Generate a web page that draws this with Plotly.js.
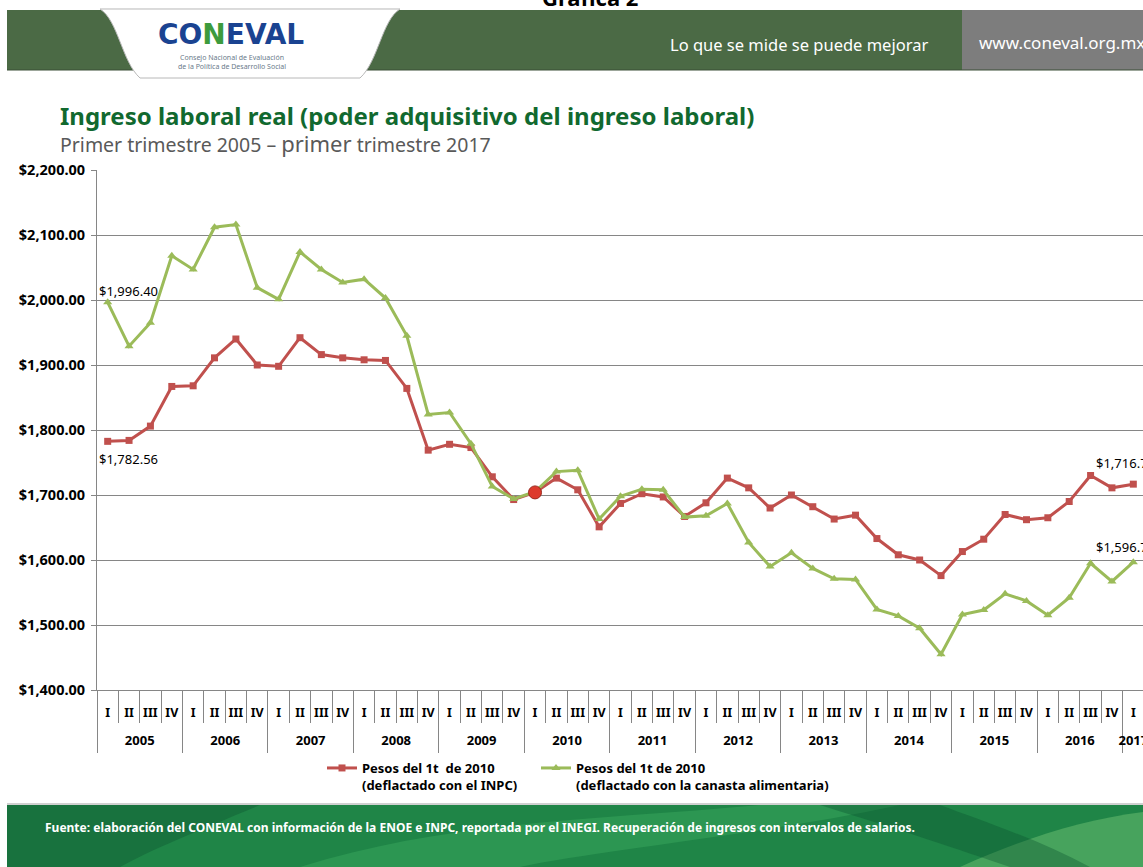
<!DOCTYPE html>
<html><head><meta charset="utf-8">
<script src="https://cdn.plot.ly/plotly-3.0.1.min.js"></script>
<style>html,body{margin:0;padding:0;background:#fff;overflow:hidden;width:1143px;height:867px}#chart{width:1200px;height:867px}</style>
</head><body><div id="chart"></div>
<script>
// ---------- DATA ----------
const yearLabels = ['2005','2006','2007','2008','2009','2010','2011','2012','2013','2014','2015','2016','2017'];
const quarterLabels = ['I','II','III','IV'];
const quartersPerYear = [4,4,4,4,4,4,4,4,4,4,4,4,1];
const inpcValues = [1782.56,1784,1806,1867, 1868,1911,1940,1900, 1898,1942,1916,1911, 1908,1907,1864,1769,
  1778,1773,1728,1693, 1704,1726,1708,1651, 1687,1702,1697,1667, 1688,1726,1711,1680,
  1700,1682,1663,1669, 1633,1608,1600,1576, 1613,1632,1670,1662, 1665,1690,1730,1711, 1716.70];
const canastaValues = [1996.40,1929,1965,2068, 2047,2112,2116,2019, 2001,2074,2047,2027, 2032,2003,1945,1824,
  1827,1779,1713,1694, 1705,1736,1738,1663, 1698,1709,1708,1666, 1668,1687,1627,1590,
  1611,1587,1571,1570, 1524,1514,1495,1455, 1516,1523,1548,1537, 1515,1542,1595,1567, 1596.70];
const seriesNames = ['Pesos del 1t  de 2010<br>(deflactado con el INPC)',
                     'Pesos del 1t de 2010<br>(deflactado con la canasta alimentaria)'];
const baseYear = '2010', baseQuarter = 'I';

// ---------- BUILD CATEGORIES ----------
const xYear = [], xQuarter = [], xKey = [];
const yearCenters = [], yearBounds = [-0.5];
let idx = 0;
yearLabels.forEach((y,i)=>{
  const start = idx;
  for(let q=0;q<quartersPerYear[i];q++){ xYear.push(y); xQuarter.push(quarterLabels[q]); xKey.push(y+' '+quarterLabels[q]); idx++; }
  yearCenters.push((start + idx - 1)/2);
  yearBounds.push(idx - 0.5);
});
const n = xKey.length;
let baseIdx = 0;
for(let i=0;i<n;i++){ if(xYear[i]===baseYear && xQuarter[i]===baseQuarter){ baseIdx=i; break; } }

// ---------- GEOMETRY HELPERS ----------
const FW=1200, FH=867, ML=97, MT=170, PR=1144, PB=690;
const PW=PR-ML, PH=PB-MT;
const px = x => (x-ML)/PW;
const py = y => (PB-y)/PH;
function pathOf(cmds){
  return cmds.map(c=>{ const l=c[0]; const pts=[]; for(let i=1;i<c.length;i+=2){ pts.push(px(c[i]).toFixed(5)+','+py(c[i+1]).toFixed(5)); } return l+(pts.length?' '+pts.join(' '):''); }).join(' ');
}
const FONT = 'Noto Sans, DejaVu Sans, sans-serif';
const RED='#c0504d', GREEN='#9bbb59', GRID='#868686';
const fmt = v => '$' + v.toLocaleString('en-US',{minimumFractionDigits:2, maximumFractionDigits:2});
const axisCarrier = ax => ({type:'scatter', mode:'markers', x:[], y:[], xaxis:ax, yaxis:'y', showlegend:false, hoverinfo:'skip'});

const traces = [
  {type:'scatter', mode:'lines+markers', name:seriesNames[0], x:xKey, y:inpcValues, legend:'legend',
   line:{color:RED, width:3}, marker:{symbol:'square', size:7, color:RED}},
  {type:'scatter', mode:'lines+markers', name:seriesNames[1], x:xKey, y:canastaValues, legend:'legend2',
   line:{color:GREEN, width:3}, marker:{symbol:'triangle-up', size:8, color:GREEN}},
  {type:'scatter', mode:'markers', showlegend:false, hoverinfo:'skip',
   x:[xKey[baseIdx]], y:[inpcValues[baseIdx]],
   marker:{symbol:'circle', size:13, color:'#dd3a2c', line:{color:'#9a2a20', width:1}}},
  axisCarrier('x2'), axisCarrier('x3'), axisCarrier('x4')
];

const shapes = [
  {type:'rect', xref:'paper', yref:'paper', x0:px(7), x1:px(962), y0:py(70), y1:py(10), fillcolor:'#4b6a45', line:{width:0}, layer:'above'},
  {type:'rect', xref:'paper', yref:'paper', x0:px(962), x1:px(1200), y0:py(70), y1:py(10), fillcolor:'#7d7d7d', line:{width:0}, layer:'above'},
  {type:'line', xref:'paper', yref:'paper', x0:px(7), x1:px(1200), y0:py(70), y1:py(70), line:{color:'#3a4f36', width:1}, layer:'above'},
  {type:'path', xref:'paper', yref:'paper', layer:'above',
   path: pathOf([['M',100,9],['C',118,20,122,62,140,78],['L',360,78],['C',378,62,382,20,400,9],['Z']]),
   fillcolor:'#ffffff', line:{color:'#b8b8b8', width:1}},
  {type:'rect', xref:'paper', yref:'paper', x0:px(7), x1:px(1200), y0:py(867), y1:py(805), fillcolor:'#1f8547', line:{width:0}, layer:'above'},
  {type:'path', xref:'paper', yref:'paper', layer:'above', line:{width:0}, fillcolor:'rgba(60,170,95,0.45)',
   path: pathOf([['M',300,867],['C',450,820,600,820,760,805],['L',900,805],['C',760,835,600,850,520,867],['Z']])},
  {type:'path', xref:'paper', yref:'paper', layer:'above', line:{width:0}, fillcolor:'rgba(15,90,50,0.45)',
   path: pathOf([['M',7,805],['L',260,805],['C',200,830,150,850,120,867],['L',7,867],['Z']])},
  {type:'path', xref:'paper', yref:'paper', layer:'above', line:{width:0}, fillcolor:'rgba(120,200,120,0.45)',
   path: pathOf([['M',960,867],['C',1020,840,1080,820,1143,812],['L',1200,812],['L',1200,867],['Z']])},
  {type:'path', xref:'paper', yref:'paper', layer:'above', line:{width:0}, fillcolor:'rgba(10,80,45,0.35)',
   path: pathOf([['M',820,805],['C',900,830,960,850,1010,867],['L',1090,867],['C',1040,840,980,820,940,805],['Z']])},
  {type:'line', xref:'paper', yref:'paper', x0:px(7), x1:px(1200), y0:py(804), y1:py(804), line:{color:'#d0d0d0', width:2}, layer:'above'}
];

const lbl = (x,y,text,xs,ys,anchor) => ({xref:'x', yref:'y', x:x, y:y, text:text, showarrow:false,
  xanchor:anchor||'center', yanchor:'middle', xshift:xs, yshift:ys, font:{family:FONT, size:13, color:'#000'}});

const annotations = [
  {xref:'paper', yref:'paper', x:px(590), y:py(-3), text:'<b>Gráfica 2</b>', showarrow:false, xanchor:'center', yanchor:'middle', font:{family:FONT, size:22, color:'#000'}},
  {xref:'paper', yref:'paper', x:px(231), y:py(34), showarrow:false, xanchor:'center', yanchor:'middle',
   text:'<b><span style="color:#1a4391">CO</span><span style="color:#3d9b3d">N</span><span style="color:#1a4391">EVAL</span></b>',
   font:{family:'DejaVu Sans, sans-serif', size:28, color:'#1a4391'}},
  {xref:'paper', yref:'paper', x:px(232), y:py(62), showarrow:false, xanchor:'center', yanchor:'middle',
   text:'Consejo Nacional de Evaluación<br>de la Política de Desarrollo Social',
   font:{family:FONT, size:7, color:'#6a7a8a'}},
  {xref:'paper', yref:'paper', x:px(668), y:py(45), text:'Lo que se mide se puede mejorar', showarrow:false, xanchor:'left', yanchor:'middle',
   font:{family:FONT, size:16.5, color:'#ffffff'}},
  {xref:'paper', yref:'paper', x:px(977), y:py(43), text:'www.coneval.org.mx', showarrow:false, xanchor:'left', yanchor:'middle',
   font:{family:FONT, size:17, color:'#ffffff'}},
  {xref:'paper', yref:'paper', x:px(58), y:py(116), text:'<b>Ingreso laboral real (poder adquisitivo del ingreso laboral)</b>', showarrow:false, xanchor:'left', yanchor:'middle',
   font:{family:FONT, size:24, color:'#11692f'}},
  {xref:'paper', yref:'paper', x:px(58), y:py(143), text:'Primer trimestre 2005 – <span style="font-size:22px">primer</span> trimestre 2017', showarrow:false, xanchor:'left', yanchor:'middle',
   font:{family:FONT, size:19.5, color:'#595959'}},
  {xref:'paper', yref:'paper', x:px(43), y:py(827), text:'<b>Fuente: elaboración del CONEVAL con información de la ENOE e INPC, reportada por el INEGI. Recuperación de ingresos con intervalos de salarios.</b>', showarrow:false, xanchor:'left', yanchor:'middle',
   font:{family:FONT, size:12, color:'#ffffff'}},
  lbl(0, canastaValues[0], fmt(canastaValues[0]), 21, 11),
  lbl(0, inpcValues[0], fmt(inpcValues[0]), 21, -18),
  lbl(n-1, inpcValues[n-1], fmt(inpcValues[n-1]), -39, 21, 'left'),
  lbl(n-1, canastaValues[n-1], fmt(canastaValues[n-1]), -39, 15, 'left')
];

const legendBase = {orientation:'h', xanchor:'left', yanchor:'top', valign:'top', bgcolor:'rgba(0,0,0,0)',
  font:{family:FONT, size:13, color:'#000', weight:'bold'}};
const overlayBase = {overlaying:'x', anchor:'y', side:'bottom', type:'linear', range:[-0.5, n-0.5],
  showgrid:false, zeroline:false, showline:false, tickcolor:GRID, tickwidth:1};

const layout = {
  width:FW, height:FH, margin:{l:ML, r:FW-PR, t:MT, b:FH-PB, pad:0},
  paper_bgcolor:'#ffffff', plot_bgcolor:'#ffffff', showlegend:true,
  font:{family:FONT, color:'#000'},
  xaxis:{type:'category', showgrid:false, zeroline:false, showline:true, linecolor:GRID, linewidth:1,
    ticks:'', tickangle:0, ticklabelstandoff:11, tickmode:'array', tickvals:xKey, ticktext:xQuarter,
    range:[-0.5, n-0.5], tickfont:{family:FONT, size:12.5, color:'#000', weight:'bold'}},
  xaxis2:Object.assign({}, overlayBase, {tickmode:'linear', tick0:-0.5, dtick:1, ticks:'outside', ticklen:32, showticklabels:false}),
  xaxis3:Object.assign({}, overlayBase, {tickmode:'array', tickvals:yearBounds, ticks:'outside', ticklen:62, showticklabels:false}),
  xaxis4:Object.assign({}, overlayBase, {tickmode:'array', tickvals:yearCenters, ticktext:yearLabels, ticks:'', tickangle:0,
    ticklabelstandoff:41, showticklabels:true, tickfont:{family:FONT, size:13, color:'#000', weight:'bold'}}),
  yaxis:{range:[1400,2200], tick0:1400, dtick:100, tickprefix:'$', tickformat:',.2f', showgrid:true, gridcolor:GRID, gridwidth:1,
    zeroline:false, showline:true, linecolor:GRID, ticks:'outside', ticklen:5, tickcolor:GRID, ticklabelstandoff:3,
    tickfont:{family:FONT, size:14.5, color:'#000', weight:'bold'}},
  legend: Object.assign({}, legendBase, {x:px(322), y:py(753)}),
  legend2: Object.assign({}, legendBase, {x:px(536), y:py(753)}),
  shapes:shapes, annotations:annotations
};

Plotly.newPlot('chart', traces, layout, {displayModeBar:false, staticPlot:true});
</script></body></html>
